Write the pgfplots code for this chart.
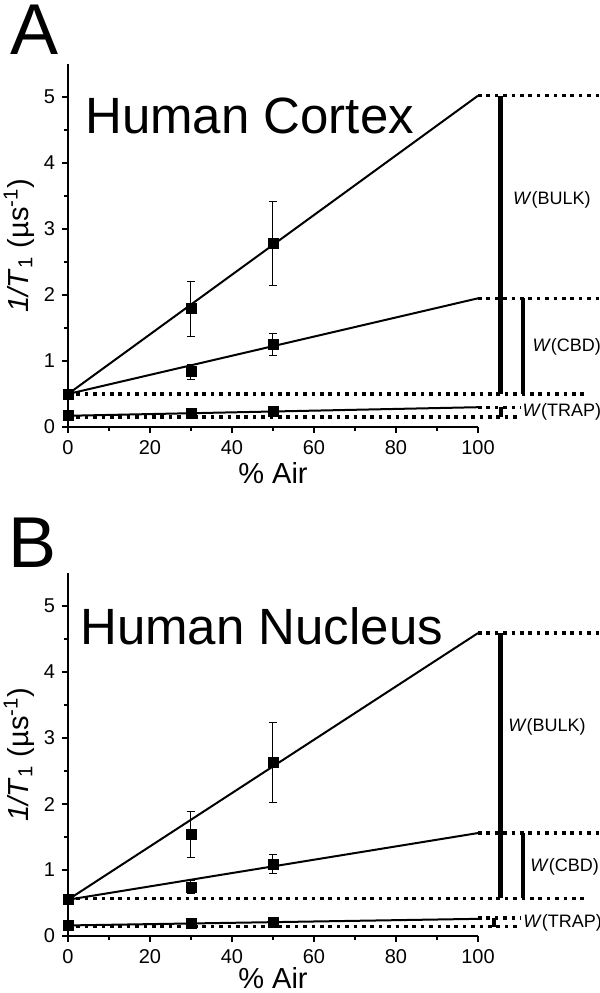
\documentclass[border=0pt]{standalone}
\usepackage{pgfplots}
\pgfplotsset{compat=1.18}
\usepackage{fontspec}
\setmainfont{Liberation Sans}

\pgfplotsset{
  panel/.style={
    scale only axis, width=205pt, height=181.5pt,
    xmin=0, xmax=100, ymin=0, ymax=5.5,
    axis lines=left, axis line style={-, line width=0.7pt},
    clip=false,
    xtick={0,20,...,100}, ytick={0,...,5},
    minor x tick num=1, minor y tick num=1,
    tick align=outside, major tick length=3pt, minor tick length=1.8pt,
    tick style={line width=0.6pt, black},
    tick label style={font=\fontsize{10}{11}\selectfont},
    /pgf/number format/assume math mode=true,
    xlabel={\% Air},
    ylabel={\textit{1/T}\textsubscript{1} (µs\textsuperscript{-1})},
    ylabel shift=-2pt, xlabel shift=-2.5pt,
    label style={font=\fontsize{14.5}{16}\selectfont},
  },
  fit/.style={black, line width=1pt, no marks},
  pts/.style={black, only marks, mark=square*, mark size=2.5pt,
    error bars/y dir=both, error bars/y explicit,
    error bars/error bar style={line width=0.5pt},
    error bars/error mark options={rotate=90, mark size=2pt, line width=0.5pt}},
  dots/.style={black, line width=1.7pt, dash pattern=on 1.8pt off 2.4pt, no marks},
  bar/.style={black, no marks, line width=2.6pt},
}
\tikzset{
  wlab/.style={anchor=west, inner sep=0pt, font=\fontsize{9}{10}\selectfont},
}

\begin{document}
\begin{tikzpicture}
\useasboundingbox (0,0) rectangle (300pt,-496.5pt);

% ---- A: Human Cortex
\begin{axis}[panel, at={(34pt,-213.5pt)}, anchor=south west]
\addplot[dots] coordinates {(100,5.02) (130,5.02)};
\addplot[dots] coordinates {(100,1.95) (130,1.95)};
\addplot[dots] coordinates {(0,0.5) (126,0.5)};
\addplot[dots] coordinates {(100,0.3) (110.5,0.3)};
\addplot[dots] coordinates {(0,0.15) (110.5,0.15)};

\addplot[fit] coordinates {(0,0.5) (100,5.02)};
\addplot[fit] coordinates {(0,0.5) (100,1.95)};
\addplot[fit] coordinates {(0,0.17) (100,0.3)};

\addplot[pts] coordinates {
  (0,0.5) +- (0,0)
  (30,1.79) += (0,0.41) -= (0,0.42)
  (50,2.78) += (0,0.63) -= (0,0.64)
};
\addplot[pts] coordinates {
  (30,0.84) += (0,0.11) -= (0,0.12)
  (50,1.25) += (0,0.17) -= (0,0.17)
};
\addplot[pts] coordinates {
  (0,0.17) +- (0,0)
  (30,0.21) +- (0,0.02)
  (50,0.23) +- (0,0.02)
};

\addplot[bar] coordinates {(105.4,0.5) (105.4,5.02)};
\addplot[bar, line width=2pt] coordinates {(111,0.5) (111,1.95)};
\addplot[bar, line width=2.4pt] coordinates {(105.6,0.15) (105.6,0.3)};

\node[wlab] at (axis cs:108.5,3.44) {\textit{W}(BULK)};
\node[wlab] at (axis cs:113.2,1.21) {\textit{W}(CBD)};
\node[wlab] at (axis cs:110.8,0.23) {\textit{W}(TRAP)};

\node[anchor=base west, font=\fontsize{25.5}{28}\selectfont, inner sep=0pt]
  at (axis cs:4.1,4.45) {Human Cortex};
\node[anchor=base west, font=\fontsize{36}{40}\selectfont, inner sep=0pt]
  at (axis cs:-14.1,5.64) {A};
\end{axis}

% ---- B: Human Nucleus
\begin{axis}[panel, at={(34pt,-468pt)}, anchor=south west, xlabel shift=-4.5pt]
\addplot[dots] coordinates {(100,4.59) (130,4.59)};
\addplot[dots] coordinates {(100,1.56) (130,1.56)};
\addplot[dots] coordinates {(0,0.57) (126,0.57)};
\addplot[dots] coordinates {(100,0.27) (110.5,0.27)};
\addplot[dots] coordinates {(0,0.14) (110.5,0.14)};

\addplot[fit] coordinates {(0,0.55) (100,4.59)};
\addplot[fit] coordinates {(0,0.55) (100,1.56)};
\addplot[fit] coordinates {(0,0.16) (100,0.26)};

\addplot[pts] coordinates {
  (0,0.55) +- (0,0)
  (30,1.54) += (0,0.35) -= (0,0.35)
  (50,2.63) += (0,0.61) -= (0,0.60)
};
\addplot[pts] coordinates {
  (30,0.74) += (0,0.10) -= (0,0.10)
  (50,1.09) += (0,0.14) -= (0,0.14)
};
\addplot[pts] coordinates {
  (0,0.16) +- (0,0)
  (30,0.19) +- (0,0.02)
  (50,0.21) +- (0,0.02)
};

\addplot[bar] coordinates {(105.4,0.57) (105.4,4.59)};
\addplot[bar, line width=2pt] coordinates {(111,0.57) (111,1.56)};
\addplot[bar, line width=2.4pt] coordinates {(103.9,0.14) (103.9,0.27)};

\node[wlab] at (axis cs:107.3,3.17) {\textit{W}(BULK)};
\node[wlab] at (axis cs:112.7,1.05) {\textit{W}(CBD)};
\node[wlab] at (axis cs:111.0,0.20) {\textit{W}(TRAP)};

\node[anchor=base west, font=\fontsize{25.5}{28}\selectfont, inner sep=0pt]
  at (axis cs:2.9,4.42) {Human Nucleus};
\node[anchor=base west, font=\fontsize{36}{40}\selectfont, inner sep=0pt]
  at (axis cs:-14.6,5.59) {B};
\end{axis}
\end{tikzpicture}
\end{document}
